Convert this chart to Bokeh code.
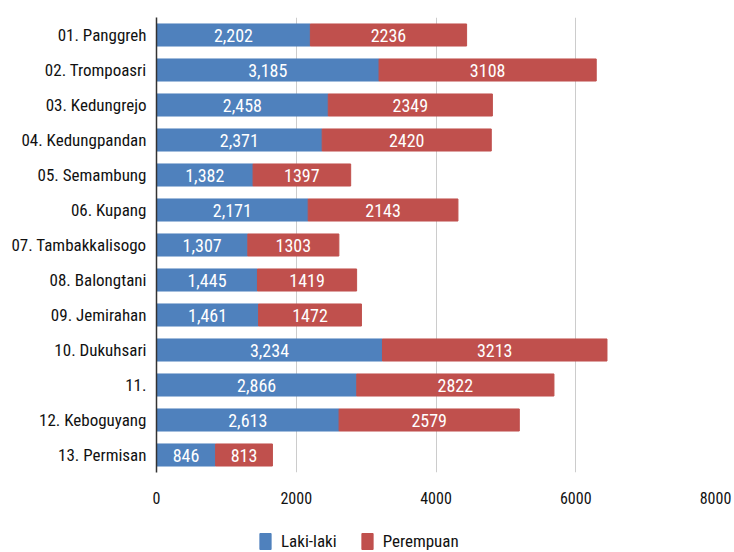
from bokeh.plotting import figure
from bokeh.layouts import column
from bokeh.core.properties import value
from bokeh.models import (ColumnDataSource, FactorRange, LabelSet, Legend, LegendItem,
                          FixedTicker, Range1d)
from bokeh.embed import file_html
from bokeh.resources import INLINE

categories = ["01. Panggreh", "02. Trompoasri", "03. Kedungrejo", "04. Kedungpandan",
              "05. Semambung", "06. Kupang", "07. Tambakkalisogo", "08. Balongtani",
              "09. Jemirahan", "10. Dukuhsari", "11.", "12. Keboguyang", "13. Permisan"]
laki = [2202, 3185, 2458, 2371, 1382, 2171, 1307, 1445, 1461, 3234, 2866, 2613, 846]
perempuan = [2236, 3108, 2349, 2420, 1397, 2143, 1303, 1419, 1472, 3213, 2822, 2579, 813]
x_ticks = [0, 2000, 4000, 6000, 8000]
series_names = ["Laki-laki", "Perempuan"]

FONT = "Roboto Condensed"
BLUE = "#4f81bd"
RED = "#c0504d"
TEXT = "#111111"

src = ColumnDataSource(dict(
    cat=categories,
    laki=laki,
    perempuan=perempuan,
    total=[a + b for a, b in zip(laki, perempuan)],
    mid_l=[a / 2 for a in laki],
    mid_p=[a + b / 2 for a, b in zip(laki, perempuan)],
    lab_l=[f"{a:,}" for a in laki],
    lab_p=[str(b) for b in perempuan],
))

p = figure(width=734, height=508, y_range=FactorRange(*reversed(categories)),
           x_range=(0, 8000), output_backend="svg", toolbar_location=None,
           min_border_left=156, min_border_right=19, min_border_top=17,
           min_border_bottom=36)
p.outline_line_color = None

r1 = p.hbar(y="cat", left=0, right="laki", height=0.63, color=BLUE, source=src)
r2 = p.hbar(y="cat", left="laki", right="total", height=0.63, color=RED, source=src)

for xcol, tcol in (("mid_l", "lab_l"), ("mid_p", "lab_p")):
    p.add_layout(LabelSet(x=xcol, y="cat", text=tcol, source=src, text_align="center",
                          text_baseline="middle", text_color="white",
                          text_font=value(FONT), text_font_size=value("18px")))

p.xaxis.ticker = FixedTicker(ticks=x_ticks)
p.xaxis.axis_line_color = None
p.xaxis.major_tick_line_color = None
p.xaxis.major_tick_out = 0
p.xaxis.minor_tick_line_color = None
p.xaxis.major_label_text_font = FONT
p.xaxis.major_label_text_font_size = "16px"
p.xaxis.major_label_text_color = TEXT
p.xaxis.major_label_standoff = 19

p.yaxis.axis_line_color = "#333333"
p.yaxis.axis_line_width = 1.5
p.yaxis.major_tick_line_color = None
p.yaxis.major_tick_out = 0
p.yaxis.minor_tick_line_color = None
p.yaxis.major_label_text_font = FONT
p.yaxis.major_label_text_font_size = "17px"
p.yaxis.major_label_text_color = TEXT
p.yaxis.major_label_standoff = 10

p.xgrid.ticker = FixedTicker(ticks=x_ticks)
p.xgrid.grid_line_color = "#cccccc"
p.ygrid.grid_line_color = None

# legend strip below the chart (swatch renderers lie outside its view)
lf = figure(width=734, height=44, output_backend="svg", toolbar_location=None,
            x_range=Range1d(0, 1), y_range=Range1d(0, 1),
            x_axis_type=None, y_axis_type=None, min_border=0)
lf.outline_line_color = None
lf.grid.visible = False
g1 = lf.quad(left="laki", right="total", bottom="laki", top="total", source=src, color=BLUE)
g2 = lf.quad(left="laki", right="total", bottom="laki", top="total", source=src, color=RED)
legend = Legend(items=[LegendItem(label=series_names[0], renderers=[g1]),
                       LegendItem(label=series_names[1], renderers=[g2])],
                orientation="horizontal", location=(102, 1),
                label_text_font=FONT, label_text_font_size="17px",
                label_text_color=TEXT, glyph_width=14, glyph_height=20,
                label_standoff=9, spacing=23, padding=0, margin=0,
                border_line_color=None, background_fill_alpha=0)
lf.add_layout(legend, "center")

open("out.html", "w").write(file_html(column(p, lf, spacing=0), INLINE))
